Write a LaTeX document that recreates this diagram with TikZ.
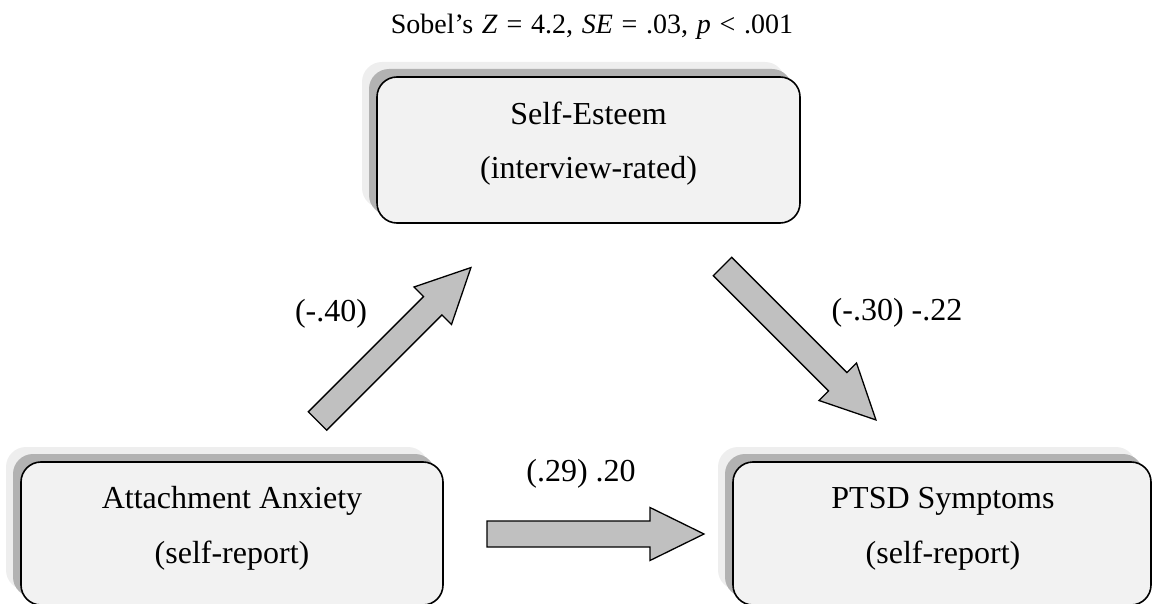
\documentclass[tikz,border=0pt]{standalone}
\usepackage{fontspec}
\setmainfont{Liberation Serif}
\newfontfamily\titlefont[WordSpace=1.25]{Liberation Serif}
\usetikzlibrary{shadows}
\definecolor{boxfill}{HTML}{F2F2F2}
\definecolor{shlight}{HTML}{EEEEEE}
\definecolor{shdark}{HTML}{B2B2B2}
\definecolor{arrowfill}{HTML}{C0C0C0}
\tikzset{
  vbox/.style={draw=black, line width=1.6pt, fill=boxfill, rounded corners=20pt,
    inner sep=0pt, outer sep=0pt,
    general shadow={fill=shlight, draw=none, shadow xshift=-15pt, shadow yshift=15pt},
    general shadow={fill=shdark, draw=none, shadow xshift=-8pt, shadow yshift=8pt}},
  boxtext/.style={anchor=base, inner sep=0pt, font=\fontsize{32}{38}\selectfont},
  pathlabel/.style={anchor=base, inner sep=0pt, font=\fontsize{32}{38}\selectfont},
  titletext/.style={anchor=base, inner sep=0pt, font=\titlefont\fontsize{28}{33}\selectfont},
  arrowshape/.style={draw=black, line width=1.3pt, fill=arrowfill, line join=miter},
  blockarrow/.pic={\path[arrowshape] (0,-13) -- (163,-13) -- (163,-26.5) -- (217,0) -- (163,26.5) -- (163,13) -- (0,13) -- cycle;}
}
\begin{document}
\begin{tikzpicture}[x=1pt, y=-1pt]
\useasboundingbox (0,0) rectangle (1152,604);
\clip (0,0) rectangle (1152,604);

% title
\node[titletext] (sobel) at (592,34)
  {Sobel’s \textit{Z} = 4.2, \textit{SE} = .03, \textit{p} < .001};

% boxes
\node[vbox, minimum width=423pt, minimum height=146pt] (se) at (588.5,150) {};
\node[vbox, minimum width=422pt, minimum height=143pt] (aa) at (232,533.5) {};
\node[vbox, minimum width=418pt, minimum height=143pt] (ptsd) at (942,533.5) {};

\node[boxtext] (se1) at (588.5,125) {Self-Esteem};
\node[boxtext] (se2) at (588.5,179) {(interview-rated)};
\node[boxtext] (aa1) at (232,508) {Attachment Anxiety};
\node[boxtext] (aa2) at (232,563) {(self-report)};
\node[boxtext] (pt1) at (943,508) {PTSD Symptoms};
\node[boxtext] (pt2) at (943,563) {(self-report)};

% block arrows
\coordinate (a1) at (317.5,421);
\coordinate (a2) at (722.5,266.5);
\coordinate (a3) at (487,534);
\pic[rotate=45] at (a1) {blockarrow};
\pic[rotate=-45] at (a2) {blockarrow};
\pic at (a3) {blockarrow};

% path labels
\node[pathlabel] (l1) at (331,322) {(-.40)};
\node[pathlabel] (l2) at (897,320) {(-.30) -.22};
\node[pathlabel] (l3) at (581,481) {(.29) .20};
\end{tikzpicture}
\end{document}
